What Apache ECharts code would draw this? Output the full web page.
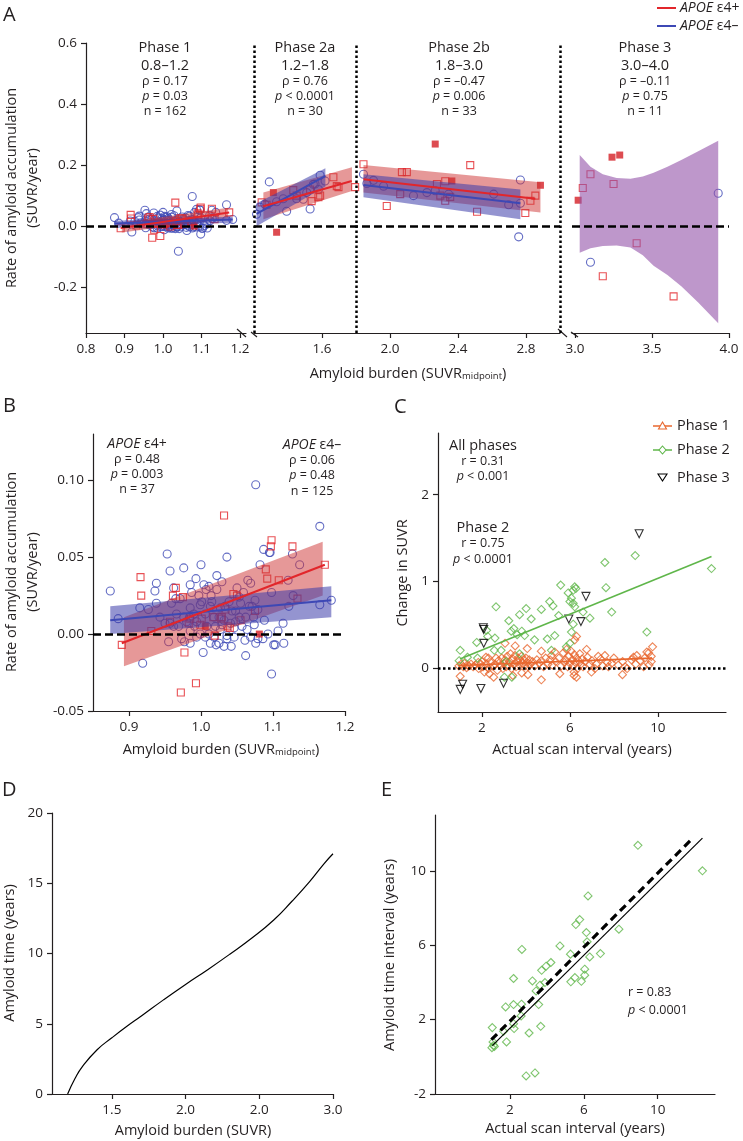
<!DOCTYPE html>
<html>
<head>
<meta charset="utf-8">
<script src="https://cdn.jsdelivr.net/npm/echarts@6.0.0/dist/echarts.min.js"></script>
<style>html,body{margin:0;background:#fff}#main{width:743px;height:1141px}</style>
</head>
<body>
<div id="main"></div>
<script>
const FONT = '"Open Sans", "Noto Sans", sans-serif';
const INK = '#231f20';
const RED = '#e2262b', RED_FILL = '#d41f26', BLUE = '#3d48b5';
const ORANGE = '#e8672e', GREEN = '#5fb64a';

// phase 1 (panel B, reused in A) - APOE e4- circles
const p1Blue = [[0.874,0.028],[0.885,0.010],[0.915,0.017],[0.919,-0.019],[0.936,0.028],[0.938,0.033],[0.938,0.020],[0.953,0.052],[0.957,0.041],[0.959,0.020],[0.957,0.007],[0.955,-0.005],[0.962,0.030],[0.965,0.023],[0.971,0.023],[0.973,-0.003],[0.976,0.043],[0.977,-0.005],[0.985,0.032],[0.987,0.027],[0.985,0.017],[0.984,0.011],[0.985,0.002],[0.991,0.005],[0.993,0.036],[0.997,0.025],[0.999,0.019],[1.000,0.045],[1.003,-0.012],[1.004,0.032],[1.007,0.029],[1.011,0.031],[1.013,0.018],[1.014,0.025],[1.018,0.011],[1.020,0.005],[1.021,-0.007],[1.022,0.038],[1.025,-0.006],[1.027,0.017],[1.029,0.006],[1.032,-0.008],[1.033,0.018],[1.036,0.050],[1.036,-0.001],[1.036,-0.003],[1.042,-0.008],[1.043,0.015],[1.048,0.015],[1.050,0.030],[1.053,0.024],[1.059,0.027],[1.061,-0.004],[1.062,-0.014],[1.064,0.003],[1.065,0.035],[1.069,0.033],[1.071,0.018],[1.073,0.011],[1.074,0.006],[1.075,0.022],[1.076,-0.006],[1.076,0.097],[1.079,-0.003],[1.082,0.045],[1.086,-0.003],[1.087,0.055],[1.088,0.009],[1.093,0.000],[1.095,0.053],[1.096,0.053],[1.098,0.027],[1.098,-0.026],[1.101,-0.007],[1.103,-0.007],[1.107,0.002],[1.114,0.007],[1.115,-0.006],[1.121,0.035],[1.122,0.018],[1.127,0.052],[1.128,0.025],[1.137,0.045],[1.165,0.019],[1.165,0.070],[1.181,0.022],[0.969,0.005],[0.980,0.008],[0.990,0.013],[0.994,0.008],[1.001,0.021],[1.006,0.013],[1.008,0.005],[1.011,0.000],[1.015,0.021],[1.025,0.011],[1.027,0.003],[1.039,0.021],[1.041,0.007],[1.046,0.004],[1.053,0.011],[1.055,0.020],[1.057,0.005],[1.067,0.018],[0.999,0.000],[0.976,0.011],[0.966,0.013],[0.962,0.005],[0.950,0.007],[0.943,0.011],[0.927,0.016],[0.994,-0.002],[1.018,-0.002],[1.032,0.009],[1.046,-0.002],[1.006,-0.002],[1.062,0.011],[0.985,-0.006],[1.013,-0.006],[1.048,0.008],[1.022,0.029],[1.029,0.034],[1.069,-0.002],[1.079,0.016],[1.040,-0.082]];
// phase 1 - APOE e4+ squares (open / filled)
const p1Red = [[0.890,-0.007],[0.916,0.037],[0.917,0.025],[0.931,0.002],[0.961,0.025],[0.965,0.030],[0.975,0.024],[0.977,-0.012],[0.983,0.007],[0.993,-0.032],[0.972,-0.038],[0.999,0.006],[1.019,-0.001],[1.028,0.010],[1.029,0.011],[1.032,0.077],[1.037,0.005],[1.040,0.004],[1.045,0.026],[1.050,0.025],[1.055,0.009],[1.075,0.015],[1.090,0.042],[1.092,0.036],[1.097,0.057],[1.098,0.061],[1.108,0.035],[1.127,0.057],[1.134,0.023],[1.172,0.045],[0.985,0.010],[1.001,0.010],[1.017,0.011],[1.034,0.016],[0.957,0.008]];
const p1RedFilled = [[1.006,0.005],[1.081,0.000]];
const p1FitRed = [[0.890,-0.006],[1.172,0.045]];
const p1FitBlue = [[0.874,0.009],[1.181,0.022]];
const p1BandRed = [[0.893,-0.021,0.011],[1.169,0.025,0.060]];
const p1BandBlue = [[0.874,0.000,0.018],[1.181,0.011,0.031]];

// phase 2a
const p2aRed = [[1.245,0.078],[1.274,0.070],[1.431,0.118],[1.451,0.100],[1.539,0.082],[1.579,0.095],[1.589,0.100],[1.667,0.160],[1.697,0.128],[1.795,0.128],[1.687,0.131],[1.530,0.120]];
const p2aRedFilled = [[1.314,0.110],[1.333,-0.020]];
const p2aBlue = [[1.215,0.039],[1.235,0.062],[1.264,0.072],[1.290,0.145],[1.333,0.080],[1.372,0.090],[1.392,0.049],[1.451,0.090],[1.490,0.088],[1.530,0.056],[1.549,0.137],[1.559,0.138],[1.589,0.167],[1.618,0.148],[1.579,0.120],[1.510,0.110]];
const p2aFitRed = [[1.255,0.065],[1.775,0.148]];
const p2aFitBlue = [[1.215,0.040],[1.620,0.165]];
const p2aBandRed = [[1.255,0.023,0.110],[1.776,0.115,0.193]];
const p2aBandBlue = [[1.215,0.000,0.075],[1.620,0.130,0.190]];

// phase 2b
const p2bRed = [[1.844,0.203],[1.981,0.066],[2.060,0.105],[2.070,0.177],[2.099,0.177],[2.276,0.138],[2.296,0.100],[2.325,0.147],[2.325,0.083],[2.354,0.096],[2.472,0.200],[2.512,0.047],[2.796,0.043],[2.826,0.083],[2.855,0.100]];
const p2bRedFilled = [[2.266,0.269],[2.364,0.148],[2.885,0.134]];
const p2bBlue = [[1.844,0.170],[1.864,0.140],[1.962,0.131],[2.138,0.100],[2.266,0.116],[2.345,0.105],[2.610,0.105],[2.698,0.070],[2.767,0.075],[2.767,0.151],[2.757,-0.035],[1.903,0.150],[2.217,0.110]];
const p2bFitRed = [[1.844,0.154],[2.855,0.090]];
const p2bFitBlue = [[1.844,0.135],[2.767,0.075]];
const p2bBandRed = [[1.844,0.110,0.200],[2.885,0.045,0.144]];
const p2bBandBlue = [[1.844,0.095,0.170],[2.767,0.023,0.120]];

// phase 3
const p3Red = [[3.05,0.125],[3.10,0.170],[3.25,0.138],[3.40,-0.056],[3.18,-0.164],[3.64,-0.230]];
const p3RedFilled = [[3.02,0.085],[3.24,0.226],[3.29,0.233]];
const p3Blue = [[3.10,-0.118],[3.93,0.108]];
const p3Band = [[3.03,-0.087,0.233],[3.10,-0.072,0.195],[3.18,-0.065,0.170],[3.27,-0.063,0.158],[3.36,-0.070,0.155],[3.44,-0.095,0.163],[3.51,-0.130,0.175],[3.60,-0.160,0.195],[3.69,-0.197,0.217],[3.80,-0.250,0.245],[3.93,-0.318,0.280]];

// panel C
const cPhase1 = [[4.70,-0.13],[1.01,-0.09],[8.39,-0.07],[9.76,0.25],[9.50,0.19],[9.58,0.18],[3.05,0.29],[3.51,0.26],[6.30,0.37],[6.22,0.33],[4.06,0.23],[4.70,0.20],[5.16,0.15],[5.31,0.19],[6.76,0.22],[7.29,0.14],[7.59,0.15],[8.89,0.13],[9.04,0.15],[2.18,0.13],[2.29,0.12],[2.64,0.12],[1.83,0.07],[1.34,0.04],[7.90,0.06],[7.14,0.00],[6.98,-0.04],[7.75,0.02],[8.51,0.02],[9.35,0.02],[9.70,0.08],[2.11,-0.04],[2.34,-0.06],[2.53,-0.10],[3.40,-0.08],[3.81,-0.05],[4.09,-0.07],[5.54,-0.06],[6.19,-0.08],[6.30,-0.10],[6.19,-0.04],
  [0.95,0.03],[1.05,0.05],[1.15,0.02],[1.20,0.06],[1.30,0.01],[1.40,0.03],[1.50,0.05],[1.60,0.02],[1.70,0.04],[1.85,0.00],[1.95,0.05],[2.00,0.08],[2.05,0.02],
  [2.20,0.05],[2.30,0.00],[2.40,0.07],[2.50,0.03],[2.60,0.05],[2.70,-0.02],[2.75,0.09],[2.85,0.04],[2.90,0.12],[2.95,0.00],
  [3.00,0.06],[3.05,0.10],[3.10,0.02],[3.15,0.14],[3.20,0.04],[3.25,0.08],[3.30,0.17],[3.35,0.00],[3.40,0.11],[3.45,0.05],[3.50,0.15],[3.55,0.02],[3.60,0.08],[3.65,0.12],[3.70,0.04],[3.75,0.09],[3.80,0.14],[3.85,0.06],[3.90,0.10],[3.95,0.03],
  [4.00,0.12],[4.05,0.07],[4.10,0.02],[4.15,0.10],[4.20,0.05],[4.30,0.08],[4.40,0.03],[4.50,0.10],[4.60,0.06],[4.70,0.09],[4.80,0.02],[4.90,0.12],[5.00,0.05],[5.10,0.10],
  [5.20,0.04],[5.35,0.08],[5.50,0.12],[5.60,0.03],[5.70,0.18],[5.75,0.07],[5.80,0.10],[5.85,0.22],[5.90,0.02],[5.95,0.14],[6.00,0.06],[6.05,0.20],[6.10,0.10],[6.15,0.03],[6.20,0.16],[6.25,0.07],[6.30,0.12],[6.35,0.00],[6.40,0.09],[6.45,0.17],[6.50,0.05],[6.55,0.11],[6.60,0.02],[6.70,0.08],[6.80,0.13],[6.90,0.05],
  [7.00,0.09],[7.20,0.05],[7.40,0.11],[7.50,0.03],[7.70,0.07],[8.00,0.12],[8.20,0.04],[8.40,0.08],[8.60,0.00],[8.80,0.10],[9.00,0.05],[9.20,0.09],[9.40,0.12],[9.60,0.04],[9.70,0.14]];
const cPhase2 = [[8.97,1.30],[12.44,1.15],[7.59,1.22],[7.64,0.93],[7.90,0.65],[9.50,0.42],[5.58,0.96],[6.22,0.94],[6.27,0.92],[6.15,0.90],[5.92,0.87],[6.07,0.81],[6.00,0.77],[6.15,0.75],[6.22,0.71],[5.08,0.77],[5.23,0.72],[4.70,0.68],[4.01,0.69],[3.71,0.62],[4.24,0.57],[2.64,0.71],[3.22,0.55],[3.45,0.46],[3.33,0.43],[3.60,0.39],[3.81,0.43],[3.94,0.38],[4.97,0.34],[5.31,0.38],[5.49,0.61],[6.91,0.58],[6.07,0.42],[6.15,0.51],[2.59,0.35],[2.21,0.44],[1.76,0.30],[1.01,0.21],[2.56,0.21],[2.87,0.21],[1.80,0.12],[1.34,0.13],[0.96,0.09],[3.02,-0.10],[3.36,-0.10],[3.71,0.17],[5.84,0.25],[6.00,0.29],[2.26,0.37],[4.39,0.33],[5.16,0.21],[6.60,0.65],[3.10,0.08]];
const cPhase3 = [[1.01,-0.24],[1.12,-0.18],[1.95,-0.23],[2.98,-0.17],[2.06,0.47],[2.08,0.45],[2.08,0.29],[5.95,0.57],[6.50,0.54],[6.73,0.83],[9.15,1.55]];
const cFit1 = [[0.92,0.035],[9.73,0.12]];
const cFit2 = [[1.00,0.11],[12.44,1.29]];

// panel D
const dCurve = [[1.20,0],[1.25,1.1],[1.30,1.95],[1.40,3.15],[1.50,4.0],[1.60,4.8],[1.70,5.55],[1.85,6.7],[2.00,7.8],[2.15,8.85],[2.30,9.95],[2.45,11.1],[2.60,12.4],[2.72,13.7],[2.84,15.1],[2.94,16.4],[3.00,17.1]];

// panel E
const eScatter = [[12.42,10.0],[8.93,11.37],[6.23,8.65],[5.78,7.38],[5.57,7.11],[6.14,6.68],[6.18,6.18],[7.90,6.86],[4.71,5.96],[2.65,5.77],[5.28,5.52],[6.32,5.37],[6.90,5.55],[4.22,5.07],[3.96,4.87],[3.72,4.65],[6.05,4.71],[6.05,4.39],[5.52,4.26],[5.30,4.03],[5.87,4.06],[2.20,4.21],[3.22,4.08],[3.90,3.99],[3.63,3.85],[3.42,3.54],[1.77,2.68],[2.20,2.81],[2.63,2.83],[3.56,2.81],[2.61,2.20],[2.20,1.78],[2.23,1.52],[3.67,1.64],[1.05,1.57],[1.66,1.37],[3.04,1.28],[1.82,0.80],[1.09,0.80],[1.12,0.62],[1.03,0.49],[1.16,0.56],[2.88,-1.03],[3.36,-0.87]];
const eDashed = [[1.0,0.92],[11.9,11.76]];
const eSolid = [[1.05,0.6],[12.42,11.76]];

// tick values
const aSeg1Ticks = [0.8,0.9,1.0,1.1,1.2];
const aSeg2Ticks = [1.6,2.0,2.4,2.8];
const aSeg3Ticks = [3.0,3.5,4.0];
const aYTicks = [-0.2,0,0.2,0.4,0.6];
const bXTicks = [0.9,1.0,1.1,1.2];
const bYTicks = [-0.05,0,0.05,0.10];
const cXTicks = [2,6,10];
const cYTicks = [0,1,2];
const dXTicks = [1.5,2.0,2.5,3.0];
const dXTickLabels = ['1.5','2.0','2.0','3.0'];
const dYTicks = [0,5,10,15,20];
const eXTicks = [2,6,10];
const eYTicks = [-2,2,6,10];

const phaseNotes = [
  [165, 'Phase 1', '0.8–1.2', 'ρ = 0.17', '{i|p} = 0.03', 'n = 162'],
  [305, 'Phase 2a', '1.2–1.8', 'ρ = 0.76', '{i|p} < 0.0001', 'n = 30'],
  [459, 'Phase 2b', '1.8–3.0', 'ρ = –0.47', '{i|p} = 0.006', 'n = 33'],
  [645, 'Phase 3', '3.0–4.0', 'ρ = –0.11', '{i|p} = 0.75', 'n = 11']
];

function f1(v) { return v.toFixed(1); }
function f2(v) { return v.toFixed(2); }
function f0(v) { return String(v); }

function axis(grid, min, max, ticks, fmt, show) {
  return {
    type: 'value', gridIndex: grid, min: min, max: max, show: show !== false,
    splitLine: { show: false },
    axisLine: { onZero: false, lineStyle: { color: INK, width: 1.2 } },
    axisTick: { customValues: ticks, length: 5, lineStyle: { color: INK, width: 1.2 } },
    axisLabel: { customValues: ticks, formatter: fmt, color: INK, fontSize: 13.5, fontFamily: FONT, margin: 9 }
  };
}

function pts(data, ax, symbol, size, color, filled, rotate) {
  return {
    type: 'scatter', xAxisIndex: ax, yAxisIndex: ax, data: data, symbol: symbol,
    symbolSize: size, symbolRotate: rotate || 0, z: 2, silent: true,
    itemStyle: filled ? { color: color } : { color: 'rgba(0,0,0,0)', borderColor: color, borderWidth: 1.1 }
  };
}

function fit(data, ax, color, width, dash) {
  return {
    type: 'line', xAxisIndex: ax, yAxisIndex: ax, data: data, symbol: 'none', z: 4, silent: true,
    lineStyle: { color: color, width: width, type: dash || 'solid' }, smooth: false
  };
}

function band(rows, ax, color) {
  return {
    type: 'custom', xAxisIndex: ax, yAxisIndex: ax, data: rows, z: 3, silent: true,
    renderItem: function (params, api) {
      if (params.dataIndex !== 0) return;
      var top = rows.map(function (r) { return api.coord([r[0], r[2]]); });
      var bot = rows.map(function (r) { return api.coord([r[0], r[1]]); }).reverse();
      return { type: 'polygon', shape: { points: top.concat(bot) }, style: { fill: color } };
    }
  };
}

function refLine(ax, items, dash) {
  return {
    type: 'line', xAxisIndex: ax, yAxisIndex: ax, data: [], z: 5,
    markLine: {
      silent: true, symbol: 'none', animation: false, label: { show: false },
      lineStyle: { color: '#000', width: 2.5, type: dash }, data: items
    }
  };
}

var rich = {
  i: { fontStyle: 'italic', fontFamily: FONT, fontSize: 12.5, fill: INK },
  I: { fontStyle: 'italic', fontFamily: FONT, fontSize: 14, fill: INK },
  s: { fontFamily: FONT, fontSize: 9.5, fill: INK, verticalAlign: 'bottom' }
};

function txt(x, y, text, size, align, rot) {
  return {
    type: 'text', x: x, y: y, rotation: rot || 0, silent: true,
    style: { text: text, fontSize: size, fontFamily: FONT, fill: INK, textAlign: align || 'center', textVerticalAlign: 'middle', rich: rich }
  };
}

function seg(x1, y1, x2, y2, color, w) {
  return { type: 'line', silent: true, shape: { x1: x1, y1: y1, x2: x2, y2: y2 }, style: { stroke: color, lineWidth: w } };
}

var graphics = [];
// panel letters
graphics.push(txt(3, 15, 'A', 20, 'left'), txt(3, 406, 'B', 20, 'left'), txt(394, 407, 'C', 20, 'left'), txt(2, 790, 'D', 20, 'left'), txt(381, 790, 'E', 20, 'left'));
// legend A
graphics.push(seg(657, 8, 676, 8, RED, 2), txt(680, 8, '{I|APOE} ε4+', 14, 'left'));
graphics.push(seg(657, 26, 676, 26, BLUE, 2), txt(680, 26, '{I|APOE} ε4–', 14, 'left'));
phaseNotes.forEach(function (p) {
  graphics.push(txt(p[0], 48, p[1], 14.5), txt(p[0], 66, p[2], 14.5), txt(p[0], 81, p[3], 12.5), txt(p[0], 96, p[4], 12.5), txt(p[0], 111, p[5], 12.5));
});
// axis titles
graphics.push(txt(12, 188, 'Rate of amyloid accumulation', 14.5, 'center', Math.PI / 2), txt(33, 188, '(SUVR/year)', 14.5, 'center', Math.PI / 2));
graphics.push(txt(408, 374, 'Amyloid burden (SUVR{s|midpoint})', 14.5));
graphics.push(txt(12, 572, 'Rate of amyloid accumulation', 14.5, 'center', Math.PI / 2), txt(33, 572, '(SUVR/year)', 14.5, 'center', Math.PI / 2));
graphics.push(txt(221, 750, 'Amyloid burden (SUVR{s|midpoint})', 14.5));
graphics.push(txt(403, 573, 'Change in SUVR', 14.5, 'center', Math.PI / 2), txt(582, 750, 'Actual scan interval (years)', 14.5));
graphics.push(txt(10, 953, 'Amyloid time (years)', 14.5, 'center', Math.PI / 2), txt(193, 1131, 'Amyloid burden (SUVR)', 14.5));
graphics.push(txt(390, 955, 'Amyloid time interval (years)', 14.5, 'center', Math.PI / 2), txt(575, 1129, 'Actual scan interval (years)', 14.5));
// B notes
graphics.push(txt(137, 444, '{I|APOE} ε4+', 14), txt(137, 459, 'ρ = 0.48', 12.5), txt(137, 474, '{i|p} = 0.003', 12.5), txt(137, 489, 'n = 37', 12.5));
graphics.push(txt(312, 445, '{I|APOE} ε4–', 14), txt(312, 460, 'ρ = 0.06', 12.5), txt(312, 475, '{i|p} = 0.48', 12.5), txt(312, 491, 'n = 125', 12.5));
// C notes
graphics.push(txt(483, 446, 'All phases', 14.5), txt(483, 461, 'r = 0.31', 12.5), txt(483, 476, '{i|p} < 0.001', 12.5));
graphics.push(txt(483, 528, 'Phase 2', 14.5), txt(483, 543, 'r = 0.75', 12.5), txt(483, 559, '{i|p} < 0.0001', 12.5));
// C legend
graphics.push(seg(653, 426, 672, 426, ORANGE, 1.5),
  { type: 'polygon', silent: true, shape: { points: [[662.5, 422], [666.5, 429], [658.5, 429]] }, style: { fill: '#fff', stroke: ORANGE, lineWidth: 1.1 } },
  txt(677, 426, 'Phase 1', 14.5, 'left'));
graphics.push(seg(653, 450, 672, 450, GREEN, 1.5),
  { type: 'polygon', silent: true, shape: { points: [[662.5, 446], [666, 450], [662.5, 454], [659, 450]] }, style: { fill: '#fff', stroke: GREEN, lineWidth: 1.1 } },
  txt(677, 450, 'Phase 2', 14.5, 'left'));
graphics.push({ type: 'polygon', silent: true, shape: { points: [[658, 474], [667, 474], [662.5, 481]] }, style: { fill: 'none', stroke: '#000', lineWidth: 1.1 } },
  txt(677, 478, 'Phase 3', 14.5, 'left'));
// E notes
graphics.push(txt(628, 992, 'r = 0.83', 12.5, 'left'), txt(628, 1010, '{i|p} < 0.0001', 12.5, 'left'));
// axis breaks
graphics.push(seg(237, 329, 246, 337, INK, 1.2), seg(251, 332, 257, 337, INK, 1.2));
graphics.push(seg(558, 329, 567, 337, INK, 1.2), seg(571, 332, 578, 337, INK, 1.2));

var option = {
  animation: false,
  backgroundColor: '#fff',
  textStyle: { fontFamily: FONT },
  grid: [
    { left: 86, top: 43, width: 160, height: 290 },
    { left: 254, top: 43, width: 306, height: 290 },
    { left: 572, top: 43, width: 157, height: 290 },
    { left: 93, top: 434, width: 252, height: 277 },
    { left: 438, top: 433, width: 288, height: 279 },
    { left: 52, top: 813, width: 281, height: 281 },
    { left: 435, top: 815, width: 280, height: 279 }
  ],
  xAxis: [
    axis(0, 0.8, 1.2156, aSeg1Ticks, f1),
    axis(1, 1.2, 3.0, aSeg2Ticks, f1),
    axis(2, 2.98, 4.0, aSeg3Ticks, f1),
    axis(3, 0.85, 1.2, bXTicks, f1),
    axis(4, 0, 13.1, cXTicks, f0),
    axis(5, 1.094, 3.0, dXTicks, function (v) { return dXTickLabels[dXTicks.indexOf(v)]; }),
    axis(6, -2.05, 13.1, eXTicks, f0)
  ],
  yAxis: [
    axis(0, -0.35, 0.6, aYTicks, f1),
    axis(1, -0.35, 0.6, aYTicks, f1, false),
    axis(2, -0.35, 0.6, aYTicks, f1, false),
    axis(3, -0.05, 0.13, bYTicks, f2),
    axis(4, -0.5, 2.71, cYTicks, f0),
    axis(5, 0, 20, dYTicks, f0),
    axis(6, -2, 13, eYTicks, f0)
  ],
  graphic: graphics,
  series: [
    // A phase 1
    pts(p1Blue, 0, 'circle', 8, BLUE), pts(p1Red, 0, 'rect', 7, RED), pts(p1RedFilled, 0, 'rect', 7, RED_FILL, true),
    band(p1BandRed, 0, 'rgba(205,50,50,0.5)'), band(p1BandBlue, 0, 'rgba(60,60,170,0.55)'),
    fit(p1FitBlue, 0, BLUE, 2), fit(p1FitRed, 0, RED, 2),
    refLine(0, [{ yAxis: 0 }], [8, 4]),
    // A phase 2a, 2b
    pts(p2aBlue.concat(p2bBlue), 1, 'circle', 8, BLUE), pts(p2aRed.concat(p2bRed), 1, 'rect', 7, RED), pts(p2aRedFilled.concat(p2bRedFilled), 1, 'rect', 7, RED_FILL, true),
    band(p2aBandRed, 1, 'rgba(205,50,50,0.5)'), band(p2aBandBlue, 1, 'rgba(60,60,170,0.55)'),
    band(p2bBandRed, 1, 'rgba(205,50,50,0.5)'), band(p2bBandBlue, 1, 'rgba(60,60,170,0.55)'),
    fit(p2aFitBlue, 1, BLUE, 2), fit(p2aFitRed, 1, RED, 2), fit(p2bFitBlue, 1, BLUE, 2), fit(p2bFitRed, 1, RED, 2),
    refLine(1, [{ yAxis: 0 }], [8, 4]),
    refLine(1, [{ xAxis: 1.2 }, { xAxis: 1.8 }, { xAxis: 3.0 }], [2.5, 2.5]),
    // A phase 3
    pts(p3Blue, 2, 'circle', 8, BLUE), pts(p3Red, 2, 'rect', 7, RED), pts(p3RedFilled, 2, 'rect', 7, RED_FILL, true),
    band(p3Band, 2, 'rgba(146,82,168,0.6)'),
    refLine(2, [{ yAxis: 0 }], [8, 4]),
    // B
    pts(p1Blue, 3, 'circle', 8, BLUE), pts(p1Red, 3, 'rect', 7, RED), pts(p1RedFilled, 3, 'rect', 7, RED_FILL, true),
    band(p1BandRed, 3, 'rgba(205,50,50,0.5)'), band(p1BandBlue, 3, 'rgba(60,60,170,0.55)'),
    fit(p1FitBlue, 3, BLUE, 2), fit(p1FitRed, 3, RED, 2),
    refLine(3, [{ yAxis: 0 }], [8, 4]),
    // C
    refLine(4, [{ yAxis: 0 }], [2.5, 2.5]),
    pts(cPhase1, 4, 'diamond', 8, ORANGE), pts(cPhase2, 4, 'diamond', 8, GREEN), pts(cPhase3, 4, 'triangle', 8, '#000', false, 180),
    fit(cFit1, 4, ORANGE, 1.6), fit(cFit2, 4, GREEN, 1.6),
    // D
    Object.assign(fit(dCurve, 5, '#000', 1.2), { smooth: 0.5 }),
    // E
    pts(eScatter, 6, 'diamond', 8, GREEN),
    fit(eSolid, 6, '#000', 1.2), fit(eDashed, 6, '#000', 3.2, [8, 5])
  ]
};

var chart = echarts.init(document.getElementById('main'), null, { renderer: 'canvas' });
chart.setOption(option);
</script>
</body>
</html>
